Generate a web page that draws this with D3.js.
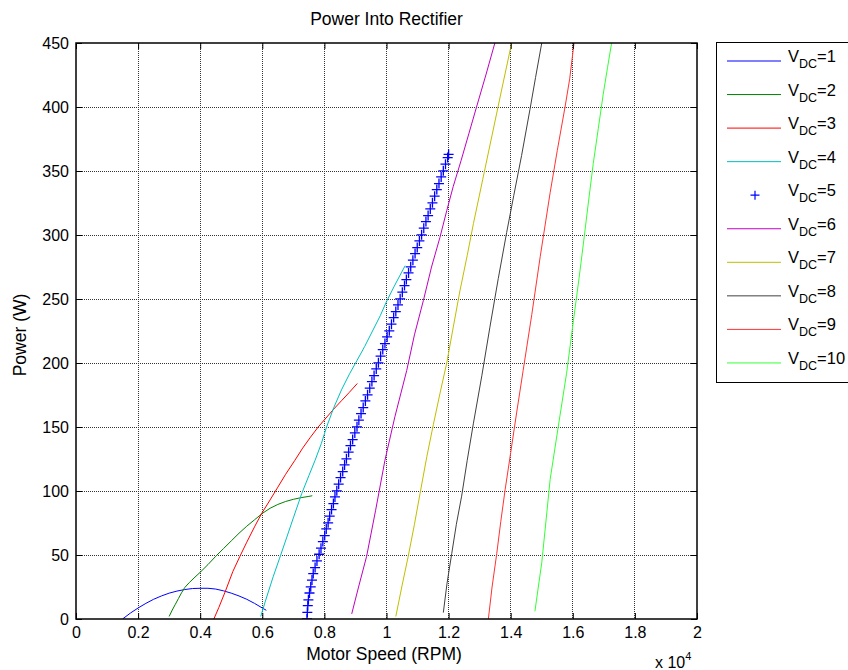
<!DOCTYPE html>
<html>
<head>
<meta charset="utf-8">
<script src="https://cdn.jsdelivr.net/npm/d3@7"></script>
<style>
  body { margin: 0; background: #fff; }
  text { font-family: "Liberation Sans", Arial, Helvetica, sans-serif; fill: #000; }
</style>
</head>
<body>
<svg id="chart" width="848" height="670"></svg>
<script>
// Motor speed (RPM) vs power into rectifier (W), one curve per DC bus voltage
const xTickValues = [0, 2000, 4000, 6000, 8000, 10000, 12000, 14000, 16000, 18000, 20000];
const yTickValues = [0, 50, 100, 150, 200, 250, 300, 350, 400, 450];

const vdc1 = [[1500,0],[1750,4.6],[2000,8.6],[2250,12.2],[2500,15.4],[2750,18],[3000,20.2],[3250,21.8],[3500,23],[3750,23.8],[4000,24],[4250,24],[4500,23.4],[4750,22],[5000,20.2],[5250,18],[5500,15.4],[5750,12.2],[6000,8.6],[6130,6.8]];
const vdc2 = [[3000,2],[3100,7],[3200,11.5],[3300,16],[3400,20.5],[3500,24.5],[3650,28.5],[3800,32],[4000,36.5],[4250,42.5],[4500,49],[4750,55],[5000,61],[5250,67],[5500,72.5],[5750,77.5],[6000,82.5],[6250,86.5],[6500,89.5],[6750,91.8],[7000,93.5],[7250,94.8],[7500,95.8],[7610,96.3]];
const vdc3 = [[4440,0],[4600,9],[4800,21],[5050,37],[5280,49],[5500,60],[5750,72],[5980,82.5],[6250,93],[6500,103],[6750,113],[7050,124],[7300,133.5],[7550,142],[7800,150],[8050,157],[8300,164],[8550,170.5],[8800,177],[9060,184]];
const vdc4 = [[5950,2],[6100,14],[6350,33],[6550,47],[6790,64],[7000,79],[7270,98],[7500,112],[7700,124],[7900,137],[8070,150],[8300,165],[8550,179],[8820,192],[9050,202],[9300,213],[9550,225],[9800,237],[10000,248],[10250,260],[10490,271],[10600,276]];
const vdc5 = [[7440,0],[7450,5.2],[7465,10.4],[7485,15],[7520,20.3],[7560,25.1],[7600,30.4],[7640,35.5],[7700,40.2],[7760,45.4],[7830,50.6],[7890,55.3],[7950,60.5],[8010,65.2],[8060,70.4],[8120,75.1],[8170,80.3],[8230,85.5],[8290,90.2],[8340,95.4],[8400,100.1],[8460,105.3],[8520,110.5],[8590,115.2],[8650,120.4],[8710,125.1],[8780,130.3],[8840,135.5],[8910,140.2],[8980,145.4],[9050,150.1],[9110,155.3],[9180,160.5],[9250,165.2],[9320,170.4],[9390,175.1],[9460,180.3],[9530,185.5],[9600,190.2],[9670,195.4],[9740,200.1],[9810,205.3],[9880,210.5],[9950,215.2],[10020,220.4],[10090,225.1],[10160,230.3],[10230,235.5],[10300,240.2],[10370,245.4],[10440,250.1],[10510,255.3],[10580,260.5],[10640,265.2],[10710,270.4],[10780,275.1],[10850,280.3],[10920,285.5],[10990,290.2],[11060,295.4],[11130,300.1],[11200,305.3],[11270,310.5],[11340,315.2],[11410,320.4],[11480,325.1],[11550,330.3],[11620,335.5],[11690,340.2],[11760,345.4],[11830,350.1],[11900,355.3],[11970,360.5],[12000,363]];
const vdc6 = [[8880,4],[9100,25],[9360,49],[9650,85],[9950,124],[10270,158],[10650,194],[10900,222],[11190,249],[11450,275],[11720,298],[11940,319],[12150,338],[12400,358],[12650,379],[12900,400],[13200,425],[13490,450]];
const vdc7 = [[10300,2],[10500,26],[10700,49],[10900,74],[11080,98],[11300,127],[11510,152],[11720,176],[11940,200],[12150,228],[12370,257],[12600,284],[12800,309],[13100,343.5],[13400,378],[13700,412.5],[14030,450]];
const vdc8 = [[11830,5],[11950,28],[12100,51],[12250,74],[12420,96],[12600,124],[12800,153],[13070,190],[13330,228],[13600,266],[13870,302],[14100,331],[14350,362],[14620,398],[14800,423],[15000,450]];
const vdc9 = [[13280,0],[13400,25],[13550,51],[13680,76],[13820,101],[14000,130],[14190,161],[14400,194],[14680,238],[14950,283],[15270,333],[15500,366],[15750,400],[15900,422],[16040,450]];
const vdc10 = [[14780,6],[15000,44],[15130,75],[15270,109],[15530,150],[15800,192],[16020,233],[16200,266],[16340,293],[16500,325],[16660,356],[16820,383],[16980,410],[17120,431],[17250,450]];

const seriesData = [vdc1, vdc2, vdc3, vdc4, vdc5, vdc6, vdc7, vdc8, vdc9, vdc10];
const seriesLabels = ["1", "2", "3", "4", "5", "6", "7", "8", "9", "10"];
const seriesColors = ["#0000ff", "#008000", "#ff0000", "#00bfbf", "#0000ff", "#bf00bf", "#bfbf00", "#404040", "#ff3333", "#33ff33"];
const seriesMarker = [false, false, false, false, true, false, false, false, false, false];

const svg = d3.select("#chart");
const plot = { left: 76, right: 697, top: 43, bottom: 619 };

const x = d3.scaleLinear().domain([0, 20000]).range([plot.left, plot.right]);
const y = d3.scaleLinear().domain([0, 450]).range([plot.bottom, plot.top]);

const FONT = 16;
const LABEL_FONT = 17.5;

// clip region
svg.append("defs").append("clipPath").attr("id", "plotClip")
  .append("rect")
  .attr("x", plot.left).attr("y", plot.top)
  .attr("width", plot.right - plot.left).attr("height", plot.bottom - plot.top);

// dotted grid
const grid = svg.append("g").attr("class", "grid");
grid.selectAll("line.gx").data(xTickValues.slice(1, -1)).join("line")
  .attr("class", "gx")
  .attr("x1", d => x(d)).attr("x2", d => x(d))
  .attr("y1", plot.top).attr("y2", plot.bottom)
  .attr("stroke", "#333").attr("stroke-width", 1).attr("stroke-dasharray", "1,1")
  .attr("shape-rendering", "crispEdges");
grid.selectAll("line.gy").data(yTickValues.slice(1, -1)).join("line")
  .attr("class", "gy")
  .attr("y1", d => y(d)).attr("y2", d => y(d))
  .attr("x1", plot.left).attr("x2", plot.right)
  .attr("stroke", "#333").attr("stroke-width", 1).attr("stroke-dasharray", "1,1")
  .attr("shape-rendering", "crispEdges");

// curves
const curves = svg.append("g").attr("clip-path", "url(#plotClip)");
const line = d3.line().x(d => x(d[0])).y(d => y(d[1]));
const plusPath = "M-5,0H5M0,-5V5";
const legendPlus = "M-4.5,0H4.5M0,-4.5V4.5";

seriesData.forEach((data, i) => {
  if (seriesMarker[i]) {
    curves.append("g").selectAll("path").data(data).join("path")
      .attr("d", plusPath)
      .attr("transform", d => `translate(${x(d[0])},${y(d[1])})`)
      .attr("fill", "none")
      .attr("stroke", seriesColors[i]).attr("stroke-width", 1.3);
  } else {
    curves.append("path").datum(data)
      .attr("d", line)
      .attr("fill", "none")
      .attr("stroke", seriesColors[i]).attr("stroke-width", 1);
  }
});

// axes with inward ticks
function styleAxis(g) {
  g.select(".domain").remove();
  g.selectAll(".tick line").attr("stroke", "#000").attr("stroke-width", 1);
  g.selectAll(".tick text").attr("font-size", FONT).attr("font-family", null).attr("fill", "#000");
}

svg.append("g").attr("transform", `translate(0,${plot.bottom})`)
  .call(d3.axisBottom(x).tickValues(xTickValues).tickFormat(d => d3.format("~g")(d / 10000))
    .tickSizeInner(-6).tickSizeOuter(0).tickPadding(8))
  .call(styleAxis);
svg.append("g").attr("transform", `translate(0,${plot.top})`)
  .call(d3.axisTop(x).tickValues(xTickValues).tickFormat("").tickSizeInner(-6).tickSizeOuter(0))
  .call(styleAxis);
svg.append("g").attr("transform", `translate(${plot.left},0)`)
  .call(d3.axisLeft(y).tickValues(yTickValues).tickSizeInner(-6).tickSizeOuter(0).tickPadding(7))
  .call(styleAxis);
svg.append("g").attr("transform", `translate(${plot.right},0)`)
  .call(d3.axisRight(y).tickValues(yTickValues).tickFormat("").tickSizeInner(-6).tickSizeOuter(0))
  .call(styleAxis);

// axes box
svg.append("rect")
  .attr("x", plot.left).attr("y", plot.top)
  .attr("width", plot.right - plot.left).attr("height", plot.bottom - plot.top)
  .attr("fill", "none").attr("stroke", "#000").attr("stroke-width", 1.5);

// title and axis labels
svg.append("text").attr("x", (plot.left + plot.right) / 2).attr("y", 25)
  .attr("text-anchor", "middle").attr("font-size", LABEL_FONT).text("Power Into Rectifier");
svg.append("text").attr("x", 384).attr("y", 660)
  .attr("text-anchor", "middle").attr("font-size", LABEL_FONT).text("Motor Speed (RPM)");
svg.append("text").attr("transform", "translate(26,335) rotate(-90)")
  .attr("text-anchor", "middle").attr("font-size", LABEL_FONT).text("Power (W)");

// x-axis exponent
const expo = svg.append("text").attr("x", 655).attr("y", 668).attr("font-size", FONT);
expo.append("tspan").text("x 10");
expo.append("tspan").attr("dy", -8).attr("font-size", 11).text("4");

// legend
const legend = svg.append("g");
legend.append("rect")
  .attr("x", 716.5).attr("y", 42.5).attr("width", 200).attr("height", 340)
  .attr("fill", "#fff").attr("stroke", "#000").attr("stroke-width", 1);

seriesLabels.forEach((lab, i) => {
  const ly = 61 + i * 33.55;
  const color = seriesColors[i];
  if (seriesMarker[i]) {
    legend.append("path").attr("d", legendPlus)
      .attr("transform", `translate(755,${ly})`)
      .attr("fill", "none").attr("stroke", color).attr("stroke-width", 1.2);
  } else {
    legend.append("line")
      .attr("x1", 727).attr("x2", 781).attr("y1", ly).attr("y2", ly)
      .attr("stroke", color).attr("stroke-width", 1);
  }
  const t = legend.append("text").attr("x", 788).attr("y", ly + 1).attr("font-size", 16.5);
  t.append("tspan").text("V");
  t.append("tspan").attr("dy", 6).attr("font-size", 12.5).text("DC");
  t.append("tspan").attr("dy", -6).text("=" + lab);
});
</script>
</body>
</html>
